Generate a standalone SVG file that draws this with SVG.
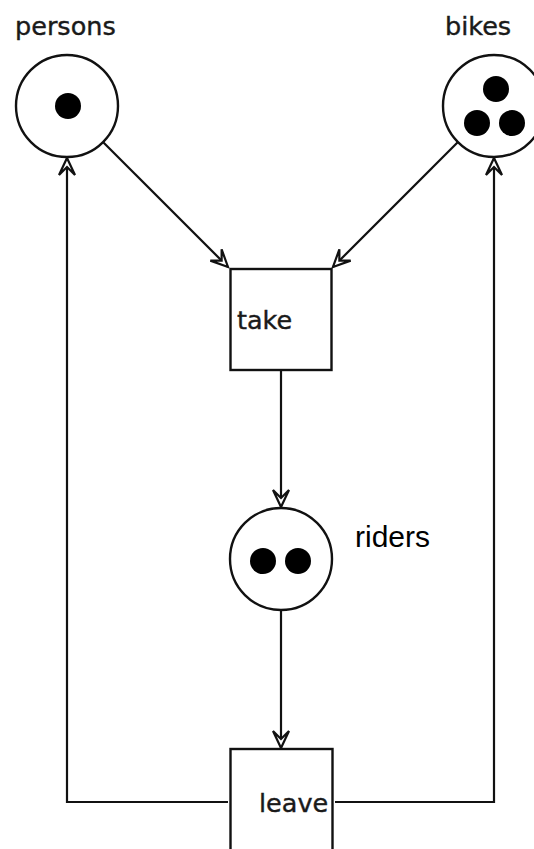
<svg xmlns="http://www.w3.org/2000/svg" width="534" height="849" viewBox="0 0 534 849">
  <style>
    .place { fill: #ffffff; stroke: #111111; stroke-width: 2.4; }
    .trans { fill: #ffffff; stroke: #111111; stroke-width: 2.4; }
    .token { fill: #000000; }
    .edge { fill: none; stroke: #111111; stroke-width: 2.2; }
    .lbl { font-family: "DejaVu Sans", sans-serif; font-size: 25.5px; fill: #1a1a1a; stroke: #1a1a1a; stroke-width: 0.4; }
    .lbl2 { font-family: "Liberation Sans", Arial, sans-serif; font-size: 30px; fill: #000000; }
  </style>
  <defs>
    <marker id="arr" viewBox="-20 -10 22 20" refX="0" refY="0" markerWidth="22" markerHeight="20" markerUnits="userSpaceOnUse" orient="auto">
      <path d="M0,0 L-17,-8 L-9,0 L-17,8 Z" fill="#ffffff" stroke="#111111" stroke-width="2.2" stroke-linejoin="miter"/>
    </marker>
  </defs>
  <rect x="0" y="0" width="534" height="849" fill="#ffffff"/>

  <g id="connectors">
    <path class="edge" d="M103,142 L228,267" marker-end="url(#arr)"/>
    <path class="edge" d="M458,142 L333,267" marker-end="url(#arr)"/>
    <path class="edge" d="M281,370 L281,507" marker-end="url(#arr)"/>
    <path class="edge" d="M281,610 L281,748" marker-end="url(#arr)"/>
    <path class="edge" d="M228,802 L67,802 L67,158" marker-end="url(#arr)"/>
    <path class="edge" d="M335,802 L494,802 L494,158" marker-end="url(#arr)"/>
  </g>

  <g id="persons">
    <circle class="place" cx="67" cy="106" r="51"/>
    <circle class="token" cx="68" cy="106" r="13"/>
    <text class="lbl" x="15" y="35">persons</text>
  </g>

  <g id="bikes">
    <circle class="place" cx="494" cy="106" r="51"/>
    <circle class="token" cx="496" cy="89" r="13"/>
    <circle class="token" cx="477" cy="123" r="13"/>
    <circle class="token" cx="512" cy="123" r="13"/>
    <text class="lbl" x="445" y="35">bikes</text>
  </g>

  <g id="take">
    <rect class="trans" x="230.5" y="269" width="101" height="101"/>
    <text class="lbl" x="237" y="329">take</text>
  </g>

  <g id="riders">
    <circle class="place" cx="281" cy="559" r="51"/>
    <circle class="token" cx="263" cy="561" r="13"/>
    <circle class="token" cx="298" cy="561" r="13"/>
    <text class="lbl2" x="355" y="547">riders</text>
  </g>

  <g id="leave">
    <rect class="trans" x="230.5" y="749" width="102" height="102"/>
    <text class="lbl" x="259" y="812">leave</text>
  </g>
</svg>
